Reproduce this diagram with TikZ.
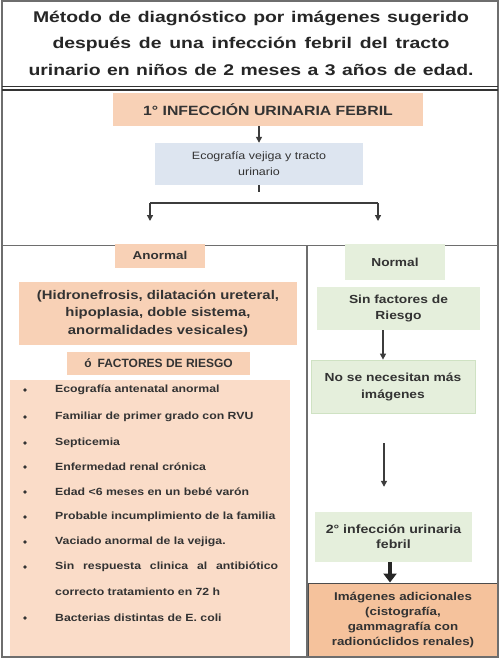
\documentclass[tikz,border=0pt]{standalone}
\usepackage{fontspec}
\setmainfont{Liberation Sans}
\newfontfamily\widesans[FakeStretch=1.18]{Liberation Sans}
\newfontfamily\titlesans[FakeStretch=1.25]{Liberation Sans}
\usetikzlibrary{arrows.meta}
\definecolor{peach}{HTML}{F8D1B6}
\definecolor{listpeach}{HTML}{FADCC8}
\definecolor{orangebox}{HTML}{F5C29C}
\definecolor{greenbox}{HTML}{E5EFDC}
\definecolor{greenline}{HTML}{CFE2C3}
\definecolor{bluebox}{HTML}{DDE5F0}
\definecolor{framec}{HTML}{6E6E6E}
\definecolor{txt}{HTML}{333333}
\definecolor{arr}{HTML}{3C3C3C}
\begin{document}
\begin{tikzpicture}[x=1pt,y=-1pt,
  box/.style={inner sep=0pt, align=center, text=txt,
    font=\widesans\bfseries\fontsize{11.7}{16}\selectfont},
  pbox/.style={box, fill=peach},
  gbox/.style={box, fill=greenbox},
  item/.style={inner sep=0pt, anchor=west, text=txt,
    font=\widesans\bfseries\fontsize{10.4}{13}\selectfont},
  bul/.style={circle, fill=txt, inner sep=0pt, minimum size=3.6pt},
  arrowthin/.style={draw=arr, line width=1.3pt, -{Triangle[length=6pt,width=6pt]}},
  arrowthick/.style={draw=black!85, line width=4pt, -{Triangle[length=9pt,width=13pt]}}
]
\useasboundingbox (0,0) rectangle (500,658);
\fill[white] (0,0) rectangle (500,658);

% separators
\coordinate (hl) at (2,245);
\coordinate (hr) at (498,245);
\coordinate (vt) at (307,245);
\coordinate (vb) at (307,657);
\draw[framec, line width=1pt] (hl) -- (hr);
\draw[framec, line width=1.2pt] (vt) -- (vb);

% title
\node (title) at (251,43) [inner sep=0pt, align=center, text=black!85,
  font=\titlesans\bfseries\fontsize{15.5}{26.5}\selectfont]
  {\makebox[436pt][s]{Método de diagnóstico por imágenes sugerido}\\
   \makebox[397pt][s]{después de una infección febril del tracto}\\
   \makebox[445pt][s]{urinario en niños de 2 meses a 3 años de edad.}};

% top flow
\node (t1) at (268,109.5) [pbox, minimum width=310pt, minimum height=33pt,
  font=\widesans\bfseries\fontsize{13.4}{16}\selectfont] {1° INFECCIÓN URINARIA FEBRIL};
\node (eco) at (259,164) [box, fill=bluebox, minimum width=208pt, minimum height=42pt,
  font=\widesans\fontsize{10.6}{16}\selectfont] {Ecografía vejiga y tracto\\urinario};
\draw[arrowthin] (t1.south -| eco.north) -- (eco.north);

\coordinate (ecoend) at (259,192);
\coordinate (bl) at (150,203);
\coordinate (br) at (378,203);
\coordinate (blend) at (150,221);
\coordinate (brend) at (378,221);
\draw[arr, line width=1.3pt] (eco.south) -- (ecoend);
\draw[arr, line width=1.3pt] (bl) -- (br);
\draw[arrowthin] (bl) -- (blend);
\draw[arrowthin] (br) -- (brend);

% left column
\node (anormal) at (160,255.5) [pbox, minimum width=90pt, minimum height=24pt,
  font=\widesans\bfseries\fontsize{11.4}{15}\selectfont] {Anormal};
\node (hidro) at (158,313.5) [pbox, minimum width=278pt, minimum height=63pt,
  font=\widesans\bfseries\fontsize{12.6}{17.5}\selectfont]
  {(Hidronefrosis, dilatación ureteral,\\hipoplasia, doble sistema,\\anormalidades vesicales)};
\node (fact) at (158.5,363.5) [pbox, minimum width=183pt, minimum height=23pt,
  font=\bfseries\fontsize{12}{13}\selectfont] {ó\hspace{6pt}FACTORES DE RIESGO};
\node (listbox) at (150,519) [fill=listpeach, minimum width=280pt, minimum height=278pt, inner sep=0pt] {};

\foreach \yy/\tt [count=\i] in {
  390/Ecografía antenatal anormal,
  417/Familiar de primer grado con RVU,
  443/Septicemia,
  467/Enfermedad renal crónica,
  492/Edad <6 meses en un bebé varón,
  517/Probable incumplimiento de la familia,
  542/Vaciado anormal de la vejiga.,
  567/\makebox[223pt][s]{Sin respuesta clinica al antibiótico},
  618/Bacterias distintas de E. coli}{
  \node (b\i) at (25,\yy) [bul] {};
  \node (it\i) at (55,\yy) [item] {\tt};
}
\node (it8b) at (55,592) [item] {correcto tratamiento en 72 h};

% right column
\node (normal) at (395,262) [gbox, minimum width=100pt, minimum height=36pt,
  font=\widesans\bfseries\fontsize{11.6}{15}\selectfont] {Normal};
\node (sinf) at (398.5,308.5) [gbox, minimum width=163pt, minimum height=43pt]
  {Sin factores de\\Riesgo};
\node (nose) at (393,386.5) [gbox, draw=greenline, line width=0.8pt,
  minimum width=164pt, minimum height=53pt,
  font=\widesans\bfseries\fontsize{11.7}{17}\selectfont] {No se necesitan más\\imágenes};
\node (seg) at (393.5,537) [gbox, minimum width=157pt, minimum height=50pt,
  font=\widesans\bfseries\fontsize{12}{15}\selectfont] {2° infección urinaria\\febril};
\node (imag) at (403,620.5) [box, fill=orangebox, draw=black!70, line width=1pt,
  minimum width=190pt, minimum height=75pt,
  font=\widesans\bfseries\fontsize{11.3}{15}\selectfont]
  {Imágenes adicionales\\(cistografía,\\gammagrafía con\\radionúclidos renales)};

\draw[arrowthin] ([xshift=-15.5pt]sinf.south) -- ([xshift=-10pt]nose.north);
\draw[arrowthin, shorten <=30pt, shorten >=25pt] ([xshift=-9pt]nose.south) -- ([xshift=-9.5pt]seg.north);
\draw[arrowthick] ([xshift=-3.5pt]seg.south) -- ([xshift=-13pt]imag.north);

% frame
\draw[framec, line width=1.6pt] (2,1) rectangle (498,657);
\draw[black!80, line width=1pt] (2,86.5) -- (498,86.5);
\draw[black!80, line width=1.4pt] (2,90) -- (498,90);
\end{tikzpicture}
\end{document}
